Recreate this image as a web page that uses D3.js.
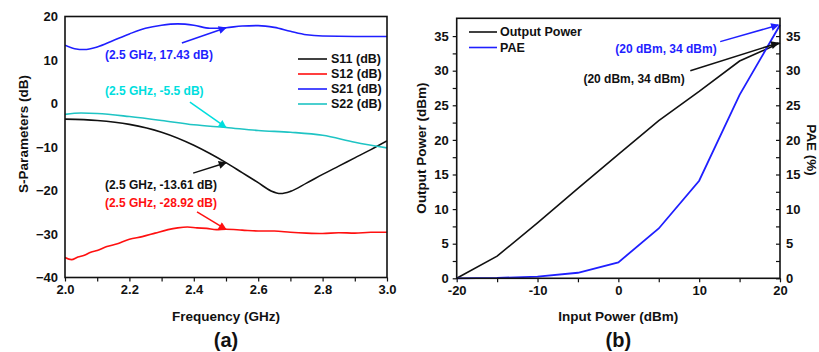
<!DOCTYPE html>
<html><head><meta charset="utf-8">
<script src="https://cdn.jsdelivr.net/npm/d3@7"></script>
<style>
body{margin:0;background:#fff;}
svg{display:block;font-family:"Liberation Sans",Arial,sans-serif;font-weight:bold;}
</style></head><body>
<svg id="c" width="819" height="352"></svg>
<script>
// ---- Panel (a) data: S-parameters vs frequency ----
const freqS11 = [2.0,2.1,2.2,2.3,2.4,2.45,2.5,2.55,2.6,2.64,2.67,2.7,2.75,2.8,2.85,2.9,2.95,3.0];
const s11 = [-3.6,-3.9,-4.8,-6.6,-9.6,-11.5,-13.6,-15.9,-18.2,-20.1,-20.7,-20.2,-18.3,-16.3,-14.4,-12.5,-10.6,-8.6];
const freqS12 = [2.0,2.02,2.04,2.06,2.08,2.1,2.13,2.16,2.2,2.24,2.28,2.32,2.35,2.38,2.41,2.44,2.47,2.5,2.55,2.6,2.65,2.7,2.75,2.8,2.85,2.9,2.95,3.0];
const s12 = [-35.4,-35.9,-35.3,-34.9,-34.2,-33.8,-32.9,-32.3,-31.2,-30.6,-29.8,-29.0,-28.6,-28.4,-28.6,-28.7,-29.0,-28.92,-29.1,-29.3,-29.3,-29.6,-29.8,-29.9,-29.7,-29.8,-29.6,-29.6];
const freqS21 = [2.0,2.03,2.06,2.1,2.15,2.2,2.25,2.3,2.35,2.4,2.45,2.5,2.55,2.6,2.65,2.7,2.75,2.8,2.9,3.0];
const s21 = [13.4,12.6,12.4,13.0,14.5,16.0,17.3,18.0,18.3,18.0,17.3,17.43,17.8,17.9,17.5,16.6,15.8,15.5,15.4,15.4];
const freqS22 = [2.0,2.05,2.1,2.2,2.3,2.4,2.5,2.6,2.7,2.8,2.9,3.0];
const s22 = [-2.5,-2.2,-2.3,-3.0,-3.9,-4.9,-5.5,-6.2,-6.6,-7.3,-8.9,-10.2];
const seriesA = [
  {name:"S11 (dB)", color:"#111111", x:freqS11, y:s11},
  {name:"S12 (dB)", color:"#ff1010", x:freqS12, y:s12},
  {name:"S21 (dB)", color:"#1f1fff", x:freqS21, y:s21},
  {name:"S22 (dB)", color:"#1fc4c4", x:freqS22, y:s22}
];
const xTicksA = [2.0,2.2,2.4,2.6,2.8,3.0];
const yTicksA = [-40,-30,-20,-10,0,10,20];
const annA = [
  {text:"(2.5 GHz, 17.43 dB)", color:"#1f1fff", tx:2.124, ty:11.15, ax:2.363, ay:13.9, bx:2.5, by:17.43},
  {text:"(2.5 GHz, -5.5 dB)", color:"#00dede", tx:2.124, ty:2.87, ax:2.388, ay:0.3, bx:2.5, by:-5.5},
  {text:"(2.5 GHz, -13.61 dB)", color:"#111111", tx:2.124, ty:-18.7, ax:2.398, ay:-16.0, bx:2.5, by:-13.61},
  {text:"(2.5 GHz, -28.92 dB)", color:"#ff1010", tx:2.124, ty:-22.9, ax:2.41, ay:-24.9, bx:2.5, by:-28.92}
];

// ---- Panel (b) data: output power & PAE vs input power ----
const inputPower = [-20,-15,-10,-5,0,5,10,15,20];
const outputPower = [0,3.2,8.0,13.0,17.9,22.8,27.0,31.4,34.0];
const pae = [0,0.05,0.25,0.8,2.3,7.2,14.1,26.5,36.6];
const xTicksB = [-20,-10,0,10,20];
const yTicksB = [0,5,10,15,20,25,30,35];
const annB = [
  {text:"(20 dBm, 34 dBm)", color:"#1f1fff", tx:5.9, ty:33.1, ax:12.6, ay:34.2, bx:19.8, by:36.6},
  {text:"(20 dBm, 34 dBm)", color:"#111111", tx:1.95, ty:28.8, ax:8.9, ay:30.0, bx:19.8, by:34.0}
];

const svg = d3.select("#c");
const defs = svg.append("defs");
function marker(id,color){
  defs.append("marker").attr("id",id).attr("viewBox","0 0 10 10").attr("refX",9).attr("refY",5)
    .attr("markerWidth",11).attr("markerHeight",8).attr("markerUnits","userSpaceOnUse").attr("orient","auto")
    .append("path").attr("d","M0,0L10,5L0,10Z").attr("fill",color);
}

// ---------- Panel (a) ----------
const A = {l:65, r:387, t:16.5, b:277.5};
const xA = d3.scaleLinear().domain([2,3]).range([A.l,A.r]);
const yA = d3.scaleLinear().domain([-40,20]).range([A.b,A.t]);
const gA = svg.append("g");
gA.append("clipPath").attr("id","clipA").append("rect").attr("x",A.l).attr("y",A.t).attr("width",A.r-A.l).attr("height",A.b-A.t);
const lineGen = d3.line().curve(d3.curveMonotoneX);
seriesA.forEach(s=>{
  gA.append("path").attr("clip-path","url(#clipA)")
    .attr("d", lineGen(s.x.map((v,i)=>[xA(v), yA(s.y[i])])))
    .attr("fill","none").attr("stroke",s.color).attr("stroke-width",1.6);
});
const axA = gA.append("g").attr("transform",`translate(0,${A.b})`)
  .call(d3.axisBottom(xA).tickValues(d3.range(2,3.0001,0.1)).tickSize(4).tickFormat(d=>{
    const r=Math.round(d*10)/10; return xTicksA.some(t=>Math.abs(t-r)<1e-6)? r.toFixed(1):"";}));
axA.select(".domain").remove();
axA.selectAll("line").attr("stroke","#111").attr("stroke-width",1.2);
axA.selectAll("text").attr("font-size",13).attr("font-weight","bold").attr("fill","#111").attr("dy","0.9em").attr("y",5);
const ayA = gA.append("g").attr("transform",`translate(${A.l},0)`)
  .call(d3.axisLeft(yA).tickValues(yTicksA).tickSize(0).tickPadding(7));
ayA.select(".domain").remove();
ayA.selectAll("text").attr("font-size",13).attr("font-weight","bold").attr("fill","#111");
gA.append("rect").attr("x",A.l).attr("y",A.t).attr("width",A.r-A.l).attr("height",A.b-A.t)
  .attr("fill","none").attr("stroke","#111").attr("stroke-width",1.6);
seriesA.forEach((s,i)=>{
  const yy = 59 + i*15;
  gA.append("line").attr("x1",298).attr("x2",327).attr("y1",yy).attr("y2",yy).attr("stroke",s.color).attr("stroke-width",1.6);
  gA.append("text").attr("x",331).attr("y",yy).attr("dy","0.35em").attr("font-size",12.5).attr("fill","#111").text(s.name);
});
annA.forEach((a,i)=>{
  marker("mA"+i,a.color);
  gA.append("text").attr("x",xA(a.tx)).attr("y",yA(a.ty)).attr("dy","0.35em").attr("font-size",12).attr("fill",a.color).text(a.text);
  gA.append("line").attr("x1",xA(a.ax)).attr("y1",yA(a.ay)).attr("x2",xA(a.bx)).attr("y2",yA(a.by))
    .attr("stroke",a.color).attr("stroke-width",1.5).attr("marker-end",`url(#mA${i})`);
});
gA.append("text").attr("x",(A.l+A.r)/2).attr("y",316).attr("dy","0.35em").attr("text-anchor","middle").attr("font-size",13.5).attr("fill","#111").text("Frequency (GHz)");
gA.append("text").attr("transform",`translate(23,134) rotate(-90)`).attr("dy","0.35em").attr("text-anchor","middle").attr("font-size",13.5).attr("fill","#111").text("S-Parameters (dB)");
gA.append("text").attr("x",(A.l+A.r)/2).attr("y",340).attr("dy","0.35em").attr("text-anchor","middle").attr("font-size",20).attr("fill","#111").text("(a)");

// ---------- Panel (b) ----------
const B = {l:456.7, r:780, t:18.3, b:278.3};
const xB = d3.scaleLinear().domain([-20,20]).range([B.l,B.r]);
const yB = d3.scaleLinear().domain([0,37.57]).range([B.b,B.t]);
const gB = svg.append("g");
const lineB = d3.line();
gB.append("path").attr("d",lineB(inputPower.map((p,i)=>[xB(p),yB(outputPower[i])])))
  .attr("fill","none").attr("stroke","#111").attr("stroke-width",1.6);
gB.append("path").attr("d",lineB(inputPower.map((p,i)=>[xB(p),yB(pae[i])])))
  .attr("fill","none").attr("stroke","#1f1fff").attr("stroke-width",1.8);
const axB = gB.append("g").attr("transform",`translate(0,${B.b})`)
  .call(d3.axisBottom(xB).tickValues(d3.range(-20,20.1,5)).tickSize(4).tickFormat(d=>xTicksB.includes(d)?d:""));
axB.select(".domain").remove();
axB.selectAll("line").attr("stroke","#111").attr("stroke-width",1.2);
axB.selectAll("text").attr("font-size",13).attr("fill","#111").attr("dy","0.9em").attr("y",5);
const minorY = d3.range(0,37.5,2.5);
const ayB = gB.append("g").attr("transform",`translate(${B.l},0)`)
  .call(d3.axisLeft(yB).tickValues(minorY).tickSize(4).tickPadding(4).tickFormat(d=>yTicksB.includes(d)?d:""));
ayB.select(".domain").remove();
ayB.selectAll("line").attr("stroke","#111").attr("stroke-width",1.2);
ayB.selectAll("text").attr("font-size",13).attr("fill","#111");
const ayB2 = gB.append("g").attr("transform",`translate(${B.r},0)`)
  .call(d3.axisRight(yB).tickValues(minorY).tickSize(-4).tickPadding(6).tickFormat(d=>yTicksB.includes(d)?d:""));
ayB2.select(".domain").remove();
ayB2.selectAll("line").attr("stroke","#111").attr("stroke-width",1.2);
ayB2.selectAll("text").attr("font-size",13).attr("fill","#111");
gB.append("rect").attr("x",B.l).attr("y",B.t).attr("width",B.r-B.l).attr("height",B.b-B.t)
  .attr("fill","none").attr("stroke","#111").attr("stroke-width",1.6);
[{n:"Output Power",c:"#111"},{n:"PAE",c:"#1f1fff"}].forEach((s,i)=>{
  const yy = 32 + i*15.5;
  gB.append("line").attr("x1",469).attr("x2",497).attr("y1",yy).attr("y2",yy).attr("stroke",s.c).attr("stroke-width",1.6);
  gB.append("text").attr("x",500).attr("y",yy).attr("dy","0.35em").attr("font-size",12.5).attr("fill","#111").text(s.n);
});
annB.forEach((a,i)=>{
  marker("mB"+i,a.color);
  gB.append("text").attr("x",xB(a.tx)).attr("y",yB(a.ty)).attr("dy","0.35em").attr("text-anchor","middle").attr("font-size",12).attr("fill",a.color).text(a.text);
  gB.append("line").attr("x1",xB(a.ax)).attr("y1",yB(a.ay)).attr("x2",xB(a.bx)).attr("y2",yB(a.by))
    .attr("stroke",a.color).attr("stroke-width",1.5).attr("marker-end",`url(#mB${i})`);
});
gB.append("text").attr("x",(B.l+B.r)/2).attr("y",316).attr("dy","0.35em").attr("text-anchor","middle").attr("font-size",13.5).attr("fill","#111").text("Input Power (dBm)");
gB.append("text").attr("transform",`translate(421,148) rotate(-90)`).attr("dy","0.35em").attr("text-anchor","middle").attr("font-size",13.5).attr("fill","#111").text("Output Power (dBm)");
gB.append("text").attr("transform",`translate(812,150) rotate(90)`).attr("dy","0.35em").attr("text-anchor","middle").attr("font-size",13.5).attr("fill","#111").text("PAE (%)");
gB.append("text").attr("x",(B.l+B.r)/2).attr("y",340).attr("dy","0.35em").attr("text-anchor","middle").attr("font-size",20).attr("fill","#111").text("(b)");
</script></body></html>
